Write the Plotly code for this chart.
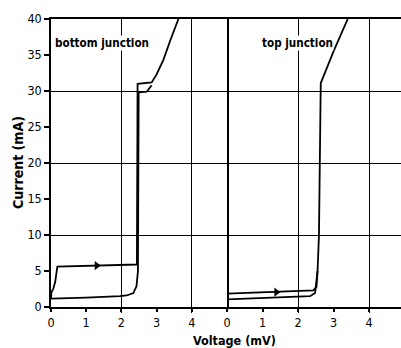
import plotly.graph_objects as go

# ---- data ----
bottom_up_v = [0.0, 0.01, 0.07, 0.12, 0.18, 1.3, 2.44, 2.46, 2.86, 3.0, 3.19, 3.38, 3.62]
bottom_up_i = [1.2, 2.0, 2.6, 3.5, 5.6, 5.75, 5.9, 31.0, 31.2, 32.3, 34.3, 36.9, 40.0]
bottom_down_v = [2.86, 2.72, 2.49, 2.47, 2.43, 2.34, 2.15, 1.96, 1.0, 0.0]
bottom_down_i = [30.8, 29.9, 29.8, 5.0, 2.9, 1.94, 1.6, 1.5, 1.3, 1.15]
bottom_arrow_v = [1.3]
bottom_arrow_i = [5.75]

top_up_v = [0.0, 1.39, 2.43, 2.52, 2.55, 2.59, 2.64, 3.0, 3.40]
top_up_i = [1.85, 2.05, 2.3, 2.8, 5.0, 10.0, 31.1, 35.5, 40.0]
top_down_v = [2.55, 2.52, 2.48, 2.34, 1.0, 0.0]
top_down_i = [5.0, 3.3, 1.94, 1.5, 1.25, 1.05]
top_arrow_v = [1.39]
top_arrow_i = [2.05]

x_ticks = [0, 1, 2, 3, 4]
x_grid = [2, 4]
y_ticks = [0, 5, 10, 15, 20, 25, 30, 35, 40]
y_grid = [10, 20, 30]

FONT = "Liberation Sans Narrow, DejaVu Sans Condensed, Arial Narrow, sans-serif"
LW = 1.8
split = 176 / 350

fig = go.Figure()
line = dict(color="black", width=LW)
arrow = dict(symbol="triangle-right", size=8, color="black")
fig.add_trace(go.Scatter(x=bottom_up_v, y=bottom_up_i, mode="lines", line=line, xaxis="x", yaxis="y"))
fig.add_trace(go.Scatter(x=bottom_down_v, y=bottom_down_i, mode="lines", line=line, xaxis="x", yaxis="y"))
# arrow marker lives on the overlay axes that carry the grid of the left panel
fig.add_trace(go.Scatter(x=bottom_arrow_v, y=bottom_arrow_i, mode="markers", marker=arrow,
                         xaxis="x3", yaxis="y3"))
fig.add_trace(go.Scatter(x=top_up_v, y=top_up_i, mode="lines", line=line, xaxis="x2", yaxis="y2"))
fig.add_trace(go.Scatter(x=top_down_v, y=top_down_i, mode="lines", line=line, xaxis="x2", yaxis="y2"))
fig.add_trace(go.Scatter(x=top_arrow_v, y=top_arrow_i, mode="markers", marker=arrow,
                         xaxis="x4", yaxis="y2"))

tickfont = dict(family=FONT, size=12.5, color="black")
common_x = dict(tickvals=x_ticks, ticktext=[str(v) for v in x_ticks], ticks="outside", ticklen=3,
                tickwidth=1.5, tickcolor="black", showgrid=False, zeroline=False, showline=True,
                mirror=True, linecolor="black", linewidth=1.5, tickfont=tickfont, fixedrange=True)
grid_x = dict(showticklabels=False, ticks="outside", ticklen=5, tickwidth=1.3, tickcolor="black",
              showgrid=True, gridcolor="black", gridwidth=1.3, zeroline=False, showline=False,
              fixedrange=True)

fig.update_layout(
    width=401, height=348,
    margin=dict(l=51, r=0, t=19, b=41),
    paper_bgcolor="white", plot_bgcolor="white",
    showlegend=False,
    xaxis=dict(domain=[0, split], range=[0, 5], anchor="y", **common_x),
    xaxis2=dict(domain=[split, 1], range=[0, 4.9], anchor="y2", **common_x),
    xaxis3=dict(domain=[0, split], range=[0, 5], overlaying="x", anchor="y3", tickvals=x_grid, **grid_x),
    xaxis4=dict(domain=[split, 1], range=[0, 4.9], overlaying="x2", anchor="y2", tickvals=x_grid, **grid_x),
    yaxis=dict(domain=[0, 1], range=[0, 40], anchor="x", tickvals=y_ticks,
               ticktext=[str(v) for v in y_ticks], ticks="outside", ticklen=5, tickwidth=1.5,
               tickcolor="black", showgrid=False, zeroline=False, showline=True, mirror=True,
               linecolor="black", linewidth=1.5, tickfont=tickfont, fixedrange=True),
    yaxis3=dict(domain=[0, 1], range=[0, 40], overlaying="y", anchor="x3", tickvals=y_grid,
                showticklabels=False, ticks="", showgrid=True, gridcolor="black", gridwidth=1.3,
                zeroline=False, showline=False, fixedrange=True),
    yaxis2=dict(domain=[0, 1], range=[0, 40], anchor="x2", tickvals=y_grid, showticklabels=False,
                ticks="", showgrid=True, gridcolor="black", gridwidth=1.3, zeroline=False,
                showline=False, fixedrange=True),
    annotations=[
        dict(text="<b>bottom junction</b>", x=0.09, y=36.7, xref="x", yref="y", xanchor="left",
             yanchor="middle", showarrow=False, bgcolor="white", borderpad=0,
             font=dict(family=FONT, size=11.6, color="black")),
        dict(text="<b>top junction</b>", x=0.96, y=36.6, xref="x2", yref="y2", xanchor="left",
             yanchor="middle", showarrow=False, bgcolor="white", borderpad=0,
             font=dict(family=FONT, size=11.6, color="black")),
        dict(text="<b>Voltage (mV)</b>", x=(234 - 51) / 350, y=0, xref="paper", yref="paper",
             yshift=-33, showarrow=False, xanchor="center", yanchor="middle",
             font=dict(family=FONT, size=12.5, color="black")),
        dict(text="<b>Current (mA)</b>", x=0, y=0.5, xref="paper", yref="paper", showarrow=False,
             textangle=-90, xshift=-33, xanchor="center", yanchor="middle",
             font=dict(family=FONT, size=14, color="black")),
    ],
)

fig.write_html("out.html", config={"displayModeBar": False},
               post_script="document.body.style.margin='0px';")
